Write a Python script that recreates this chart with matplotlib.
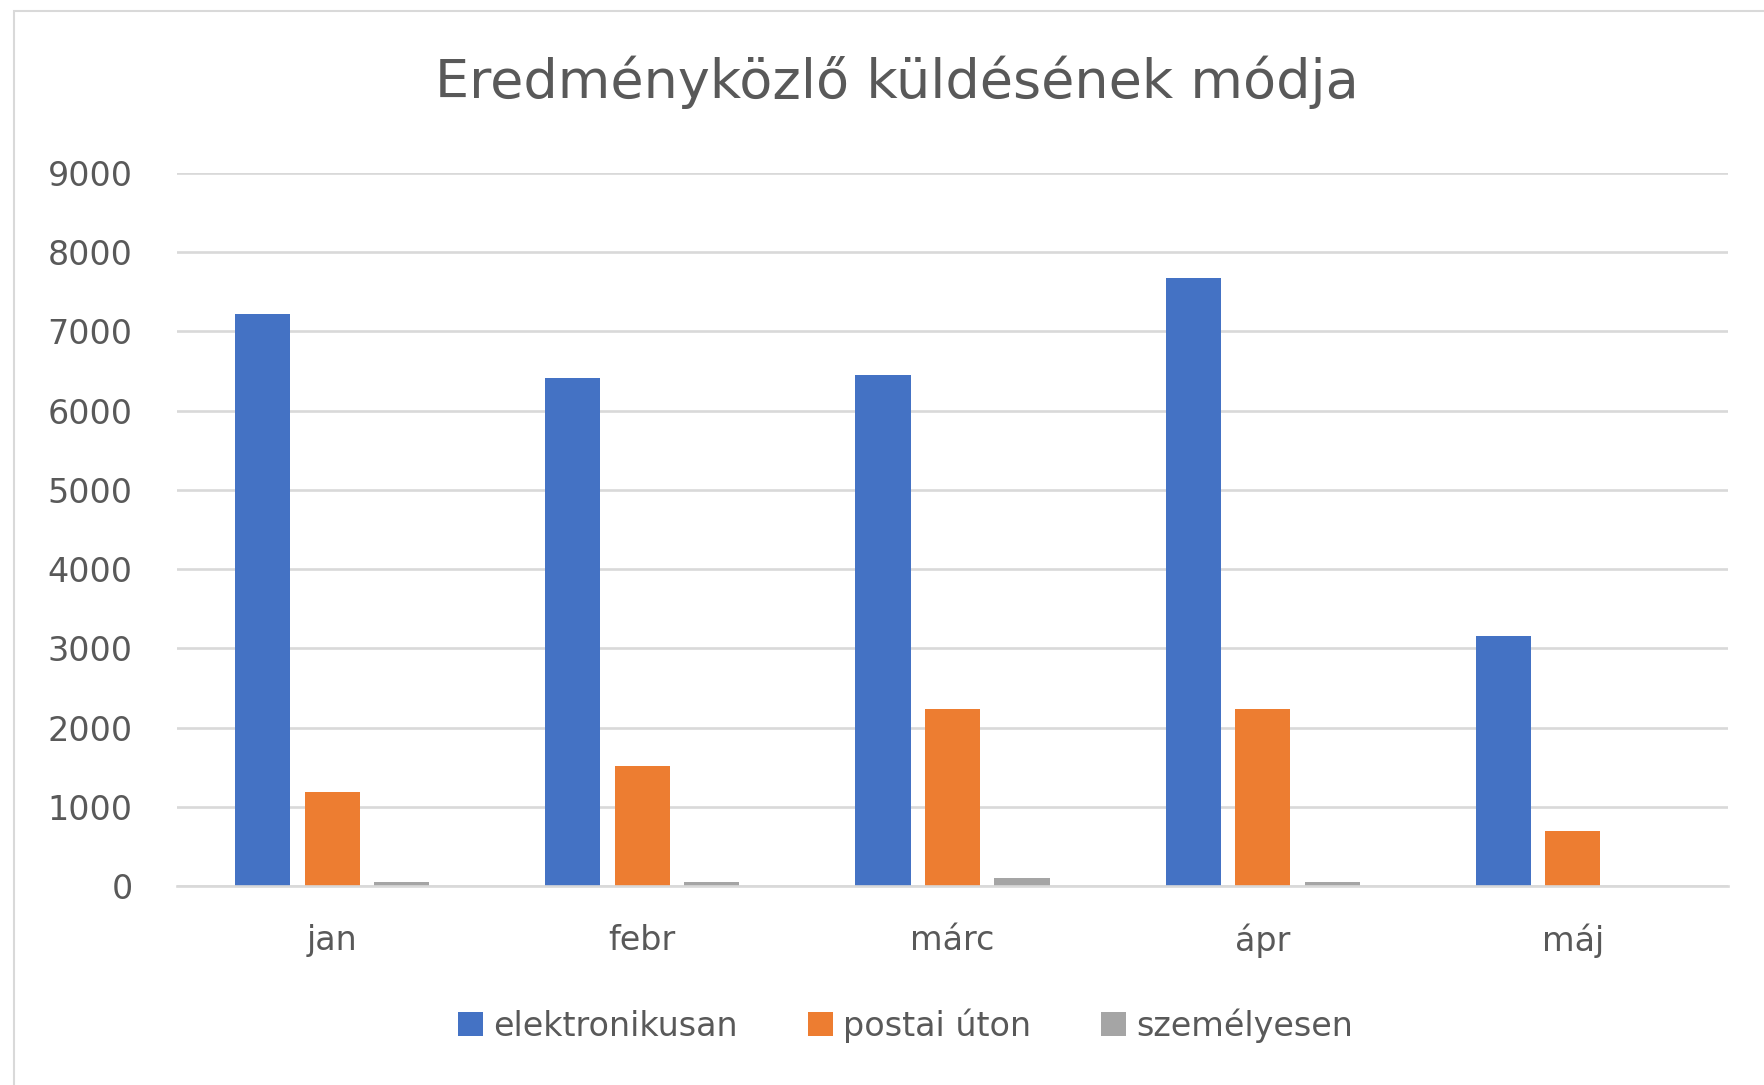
import matplotlib.pyplot as plt
import numpy as np
from matplotlib.patches import Rectangle

# Data
months = ["jan", "febr", "márc", "ápr", "máj"]
elektronikusan = [7220, 6410, 6450, 7680, 3150]
postai_uton = [1190, 1510, 2240, 2240, 690]
szemelyesen = [50, 50, 100, 50, 0]

series_names = ["elektronikusan", "postai úton", "személyesen"]
colors = ["#4472C4", "#ED7D31", "#A5A5A5"]

plt.rcParams['font.family'] = ['DejaVu Sans']

fig = plt.figure(figsize=(17.65, 10.85), dpi=100)
ax = fig.add_axes([0.1003, 0.1834, 0.8787, 0.6572])

x = np.arange(len(months))
width = 0.178
step = 0.224
for k, (vals, name, c) in enumerate(zip([elektronikusan, postai_uton, szemelyesen], series_names, colors)):
    ax.bar(x + (k - 1) * step, vals, width, color=c, label=name, zorder=3)

ax.set_xlim(-0.5, len(months) - 0.5)
ax.set_ylim(0, 9000)
ax.set_yticks(range(0, 9001, 1000))
ax.set_xticks(x)
ax.set_xticklabels(months)

ax.grid(axis='y', color='#d9d9d9', linewidth=1.9, zorder=0)
ax.set_axisbelow(True)
for s in ['top', 'right', 'left']:
    ax.spines[s].set_visible(False)
ax.spines['bottom'].set_color('#d9d9d9')
ax.spines['bottom'].set_linewidth(1.9)
ax.spines['bottom'].set_zorder(4)
ax.tick_params(axis='both', length=0, labelsize=24, labelcolor='#595959')
ax.tick_params(axis='y', pad=32)
ax.tick_params(axis='x', pad=27)

fig.text(0.508, 0.924, "Eredményközlő küldésének módja", ha='center', va='center',
         fontsize=39, color='#595959')

fig.legend(loc='center', bbox_to_anchor=(0.513, 0.055), ncol=3, frameon=False,
           fontsize=24, labelcolor='#595959', handlelength=0.75, handleheight=0.7,
           handletextpad=0.3, columnspacing=2.1)

# chart area border
fig.patches.append(Rectangle((14 / 1765, -0.01), 1.0, 1 - 11 / 1085 + 0.01,
                             transform=fig.transFigure, fill=False,
                             edgecolor='#d9d9d9', linewidth=1.5))

plt.savefig('out.png', dpi=100)
